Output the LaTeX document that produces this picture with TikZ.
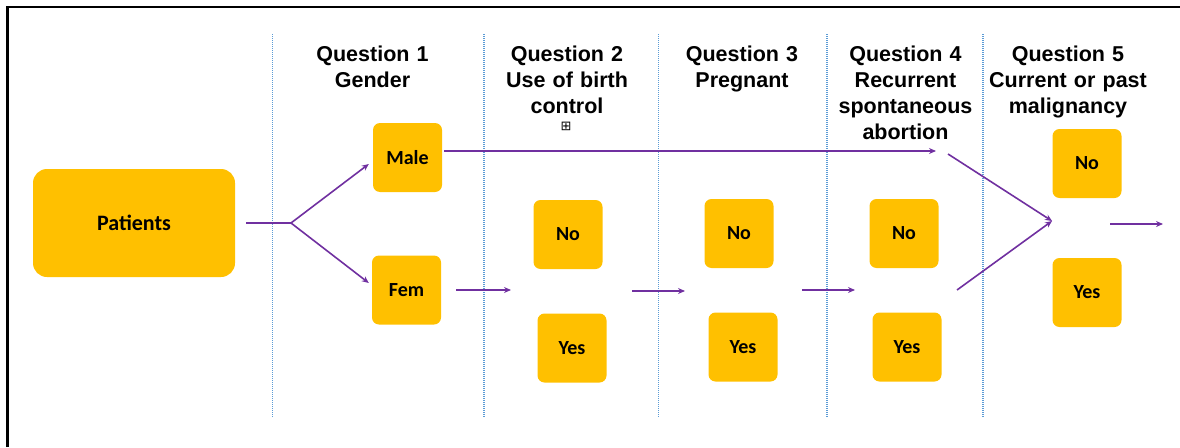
\documentclass[tikz,border=0pt]{standalone}
\usepackage{fontspec}
\setmainfont{Liberation Sans}
\newfontfamily\boxfont{Carlito}
\newfontfamily\symfont{DejaVu Sans}
\usetikzlibrary{arrows.meta}
\definecolor{ansyellow}{HTML}{FFC000}
\definecolor{flowpurple}{HTML}{7030A0}
\definecolor{divblue}{HTML}{5B9BD5}
\tikzset{
  answer/.style={fill=ansyellow, rounded corners=7pt, minimum width=69pt, minimum height=69pt, inner sep=0pt, font=\boxfont\bfseries\fontsize{20}{24}\selectfont},
  patientbox/.style={answer, minimum width=202pt, minimum height=108pt, rounded corners=14pt, font=\boxfont\bfseries\fontsize{22}{26}\selectfont},
  question/.style={text width=200pt, align=center, anchor=base, inner sep=0pt, font=\bfseries\fontsize{21.5}{26}\selectfont},
  flow/.style={draw=flowpurple, line width=1.6pt, -{Stealth[length=7pt,width=6pt]}},
  divider/.style={draw=divblue, line width=1.2pt, dash pattern=on 1pt off 1pt},
}
\begin{document}
\begin{tikzpicture}[x=1pt, y=-1pt]
  \useasboundingbox (0,0) rectangle (1180,447);
  \draw[line width=2.2pt] (7.5,447) -- (7.5,7) -- (1180,7);
  % column dividers
  \foreach \xx in {272.5,484,658.5,827,983}
    \draw[divider] (\xx,34) -- (\xx,418);

  % headings
  \node[question] (q1) at (372.5,61) {Question 1\\Gender};
  \node[question] (q2) at (567,61) {Question 2\\Use of birth\\control};
  \node[font=\symfont\fontsize{13}{13}\selectfont, inner sep=0pt] (q2mark) at (566,126) {⊞};
  \node[question] (q3) at (742,61) {Question 3\\Pregnant};
  \node[question] (q4) at (905.5,61) {Question 4\\Recurrent\\spontaneous\\abortion};
  \node[question] (q5) at (1068,61) {Question 5\\Current or past\\malignancy};

  % answers
  \node[patientbox] (patients) at (134,223) {Patients};
  \node[answer] (male) at (407.5,157.5) {Male};
  \node[answer] (fem) at (406.5,290) {Fem};
  \node[answer] (q2no) at (568,234.5) {No};
  \node[answer] (q2yes) at (572,348) {Yes};
  \node[answer] (q3no) at (739,233.5) {No};
  \node[answer] (q3yes) at (743,347) {Yes};
  \node[answer] (q4no) at (904,233.5) {No};
  \node[answer] (q4yes) at (907,347) {Yes};
  \node[answer] (q5no) at (1087,163.5) {No};
  \node[answer] (q5yes) at (1087,292.5) {Yes};

  % loose ends of the arrows
  \coordinate (split) at (291,223);
  \coordinate (maleend) at (936,151);
  \coordinate (q2in) at (511,290);
  \coordinate (q2out) at (632,291);
  \coordinate (q3in) at (685,291);
  \coordinate (q3out) at (802,290);
  \coordinate (q4in) at (855,290);
  \coordinate (q4top) at (948,154);
  \coordinate (q4bot) at (957,290);
  \coordinate (merge) at (1052,221);
  \coordinate (q5out) at (1110,224);
  \coordinate (q5end) at (1163,224);

  \draw[flow, -] ([xshift=11pt]patients.east) -- (split);
  \draw[flow] (split) -- ([xshift=-4pt,yshift=-6.5pt]male.west);
  \draw[flow] (split) -- ([xshift=-3pt,yshift=7pt]fem.west);
  \draw[flow] ([xshift=2pt,yshift=6.5pt]male.east) -- (maleend);
  \draw[flow] ([xshift=15pt]fem.east) -- (q2in);
  \draw[flow] (q2out) -- (q3in);
  \draw[flow] (q3out) -- (q4in);
  \draw[flow] (q4top) -- (merge);
  \draw[flow] (q4bot) -- (merge);
  \draw[flow] (q5out) -- (q5end);
\end{tikzpicture}
\end{document}
